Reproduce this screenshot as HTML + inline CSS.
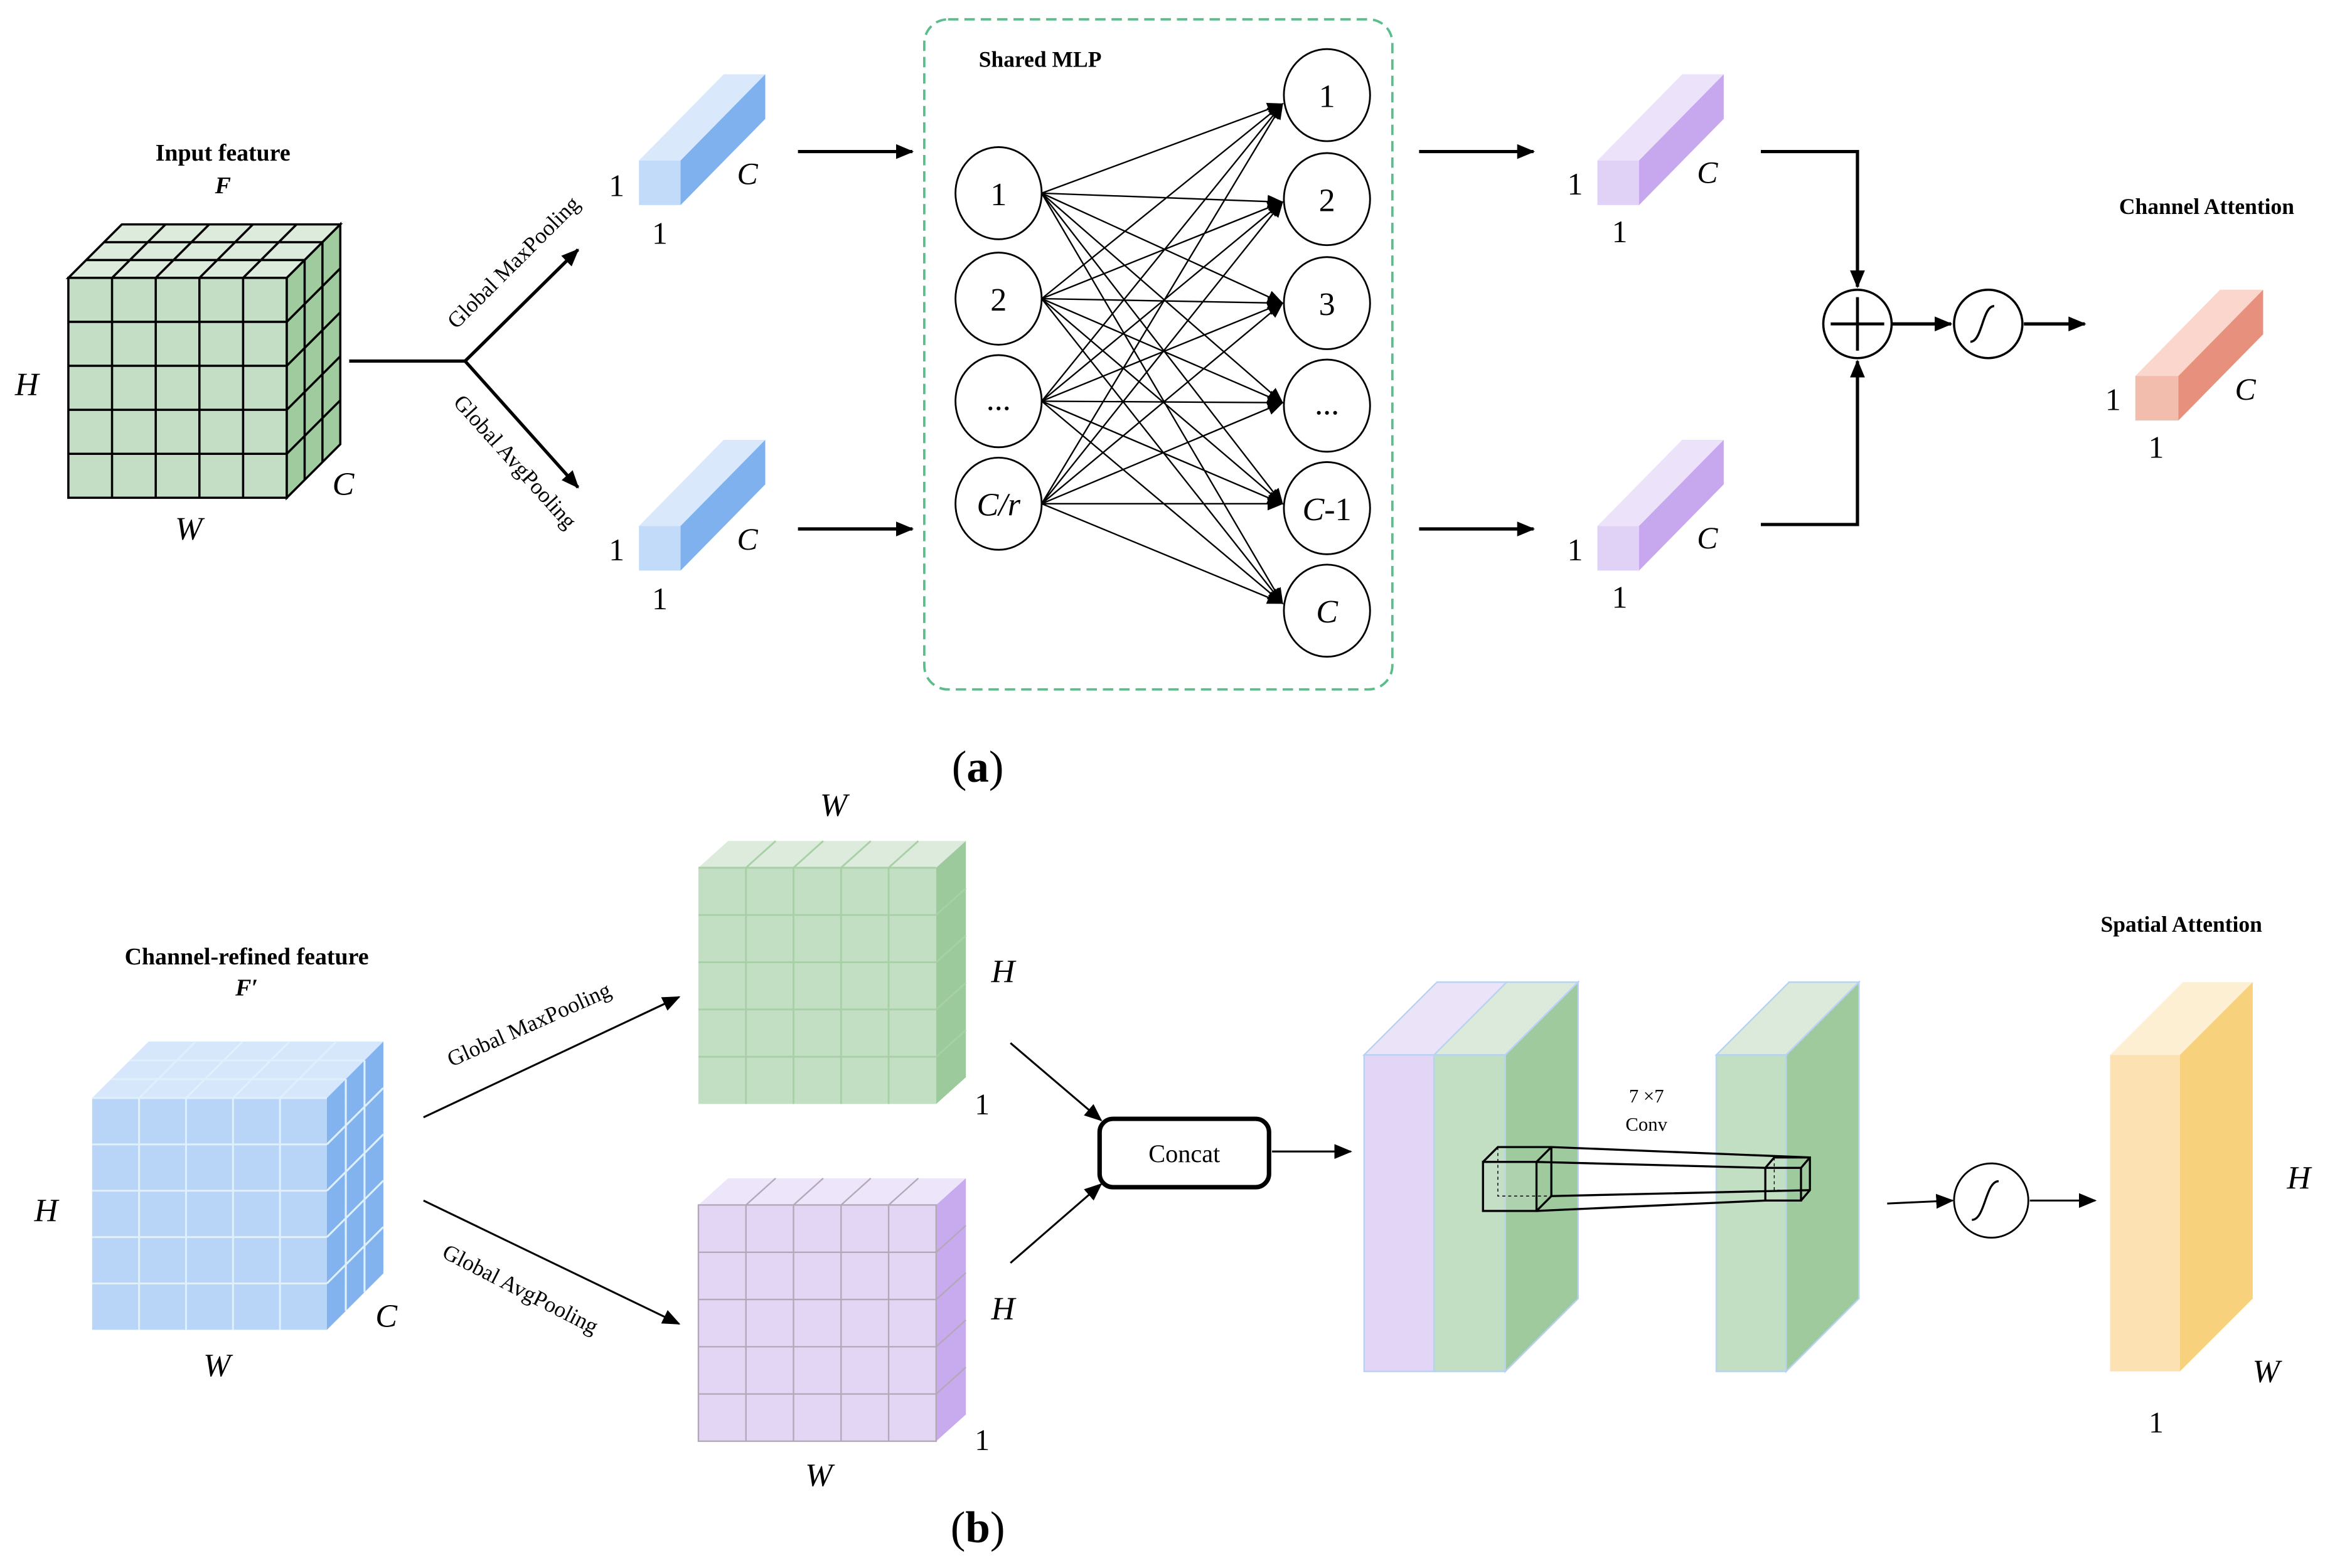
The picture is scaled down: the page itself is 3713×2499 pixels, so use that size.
<!DOCTYPE html>
<html><head><meta charset="utf-8"><style>html,body{margin:0;padding:0;background:#fff}svg{display:block}svg text{font-family:"Liberation Serif",serif}</style></head>
<body>
<svg width="3713" height="2499" viewBox="0 0 1568 1055.3" xmlns="http://www.w3.org/2000/svg" style="font-family:'Liberation Serif',serif">
<defs>
<marker id="ah" markerWidth="12" markerHeight="10" refX="11" refY="5" orient="auto" markerUnits="userSpaceOnUse"><path d="M0,0 L12,5 L0,10 z" fill="#000"/></marker>
<marker id="as" markerWidth="11" markerHeight="9" refX="10" refY="4.5" orient="auto" markerUnits="userSpaceOnUse"><path d="M0,0 L11,4.5 L0,9 z" fill="#000"/></marker>
</defs>
<rect width="1568" height="1056" fill="#fff"/>

<!-- (a) input cube -->
<polygon points="46,187 193,187 229,151 82,151" fill="#dcebdc" stroke="#000" stroke-width="1.5"/>
<rect x="46" y="187" width="147" height="148" fill="#c3dec4" stroke="#000" stroke-width="1.5"/>
<polygon points="193,187 229,151 229,299 193,335" fill="#9fcb9e" stroke="#000" stroke-width="1.5"/>
<path d="M75.4,187V335M104.8,187V335M134.2,187V335M163.6,187V335M46,216.6H193M46,246.2H193M46,275.8H193M46,305.4H193M58,175H205M70,163H217M75.4,187L111.4,151M104.8,187L140.8,151M134.2,187L170.2,151M163.6,187L199.6,151M205,175V323M217,163V311M193,216.6L229,180.6M193,246.2L229,210.2M193,275.8L229,239.8M193,305.4L229,269.4" stroke="#000" stroke-width="1.5" fill="none"/>
<text x="150" y="108" font-size="16" font-weight="bold" text-anchor="middle">Input feature</text>
<text x="150" y="130" font-size="16" font-weight="bold" font-style="italic" text-anchor="middle">F</text>
<text x="18" y="266" font-size="22" font-style="italic" text-anchor="middle">H</text>
<text x="127" y="363" font-size="22" font-style="italic" text-anchor="middle">W</text>
<text x="231" y="333" font-size="22" font-style="italic" text-anchor="middle">C</text>

<path d="M235,243H313" stroke="#000" stroke-width="2.2"/>
<path d="M313,243L389,168" stroke="#000" stroke-width="2.2" marker-end="url(#ah)"/>
<path d="M313,243L389,328" stroke="#000" stroke-width="2.2" marker-end="url(#ah)"/>
<text transform="translate(349,180) rotate(-45)" font-size="15" text-anchor="middle">Global MaxPooling</text>
<text transform="translate(343,314) rotate(48)" font-size="15" text-anchor="middle">Global AvgPooling</text>

<!-- blue bars -->
<g>
<polygon points="430,108 458,108 515,50 487,50" fill="#dae8fb"/>
<rect x="430" y="108" width="28" height="30" fill="#c2dbf8"/>
<polygon points="458,108 515,50 515,80 458,138" fill="#7fb1ef"/>
</g>
<g transform="translate(0,246)">
<polygon points="430,108 458,108 515,50 487,50" fill="#dae8fb"/>
<rect x="430" y="108" width="28" height="30" fill="#c2dbf8"/>
<polygon points="458,108 515,50 515,80 458,138" fill="#7fb1ef"/>
</g>
<g font-size="21" text-anchor="middle">
<text x="415" y="132">1</text><text x="444" y="164">1</text><text x="503" y="124" font-style="italic">C</text>
<text x="415" y="377">1</text><text x="444" y="410">1</text><text x="503" y="370" font-style="italic">C</text>
</g>
<path d="M537,102H614" stroke="#000" stroke-width="2.2" marker-end="url(#ah)"/>
<path d="M537,356H614" stroke="#000" stroke-width="2.2" marker-end="url(#ah)"/>

<!-- Shared MLP -->
<rect x="622" y="13" width="315" height="451" rx="16" fill="none" stroke="#5cbd8c" stroke-width="1.6" stroke-dasharray="7,4"/>
<text x="700" y="45" font-size="15" font-weight="bold" text-anchor="middle">Shared MLP</text>
<g stroke="#000" stroke-width="1" marker-end="url(#as)">
<path d="M701,130L863,70"/><path d="M701,201L863,70"/><path d="M701,270L863,70"/><path d="M701,339L863,70"/>
<path d="M701,130L863,136"/><path d="M701,201L863,136"/><path d="M701,270L863,136"/><path d="M701,339L863,136"/>
<path d="M701,130L863,204"/><path d="M701,201L863,204"/><path d="M701,270L863,204"/><path d="M701,339L863,204"/>
<path d="M701,130L863,271"/><path d="M701,201L863,271"/><path d="M701,270L863,271"/><path d="M701,339L863,271"/>
<path d="M701,130L863,339"/><path d="M701,201L863,339"/><path d="M701,270L863,339"/><path d="M701,339L863,339"/>
<path d="M701,130L863,406"/><path d="M701,201L863,406"/><path d="M701,270L863,406"/><path d="M701,339L863,406"/>
</g>
<g fill="#fff" stroke="#000" stroke-width="1.2">
<ellipse cx="672" cy="130" rx="29" ry="31"/><ellipse cx="672" cy="201" rx="29" ry="31"/><ellipse cx="672" cy="270" rx="29" ry="31"/><ellipse cx="672" cy="339" rx="29" ry="31"/>
<ellipse cx="893" cy="64" rx="29" ry="31"/><ellipse cx="893" cy="134" rx="29" ry="31"/><ellipse cx="893" cy="204" rx="29" ry="31"/><ellipse cx="893" cy="273" rx="29" ry="31"/><ellipse cx="893" cy="342" rx="29" ry="31"/><ellipse cx="893" cy="411" rx="29" ry="31"/>
</g>
<g font-size="22" text-anchor="middle">
<text x="672" y="138">1</text><text x="672" y="209">2</text><text x="672" y="276">...</text><text x="672" y="347" font-style="italic">C/r</text>
<text x="893" y="72">1</text><text x="893" y="142">2</text><text x="893" y="212">3</text><text x="893" y="279">...</text><text x="893" y="350"><tspan font-style="italic">C</tspan>-1</text><text x="893" y="419" font-style="italic">C</text>
</g>

<path d="M955,102H1032" stroke="#000" stroke-width="2.2" marker-end="url(#ah)"/>
<path d="M955,356H1032" stroke="#000" stroke-width="2.2" marker-end="url(#ah)"/>
<!-- purple bars -->
<g>
<polygon points="1075,108 1103,108 1160,50 1132,50" fill="#ece3fa"/>
<rect x="1075" y="108" width="28" height="30" fill="#e0d2f6"/>
<polygon points="1103,108 1160,50 1160,80 1103,138" fill="#c7a7ee"/>
</g>
<g transform="translate(0,246)">
<polygon points="1075,108 1103,108 1160,50 1132,50" fill="#ece3fa"/>
<rect x="1075" y="108" width="28" height="30" fill="#e0d2f6"/>
<polygon points="1103,108 1160,50 1160,80 1103,138" fill="#c7a7ee"/>
</g>
<g font-size="21" text-anchor="middle">
<text x="1060" y="131">1</text><text x="1090" y="163">1</text><text x="1149" y="123" font-style="italic">C</text>
<text x="1060" y="377">1</text><text x="1090" y="409">1</text><text x="1149" y="369" font-style="italic">C</text>
</g>
<path d="M1185,102H1250V193" stroke="#000" stroke-width="2.2" fill="none" marker-end="url(#ah)"/>
<path d="M1185,353H1250V243" stroke="#000" stroke-width="2.2" fill="none" marker-end="url(#ah)"/>
<circle cx="1250" cy="218" r="23" fill="#fff" stroke="#000" stroke-width="1.5"/>
<path d="M1232,218H1268M1250,200V236" stroke="#000" stroke-width="2"/>
<path d="M1273,218H1313" stroke="#000" stroke-width="2.2" marker-end="url(#ah)"/>
<circle cx="1338" cy="218" r="23" fill="#fff" stroke="#000" stroke-width="1.5"/>
<path d="M1326,230C1334,230 1334,206 1342,206" stroke="#000" stroke-width="1.5" fill="none"/>
<path d="M1362,218H1403" stroke="#000" stroke-width="2.2" marker-end="url(#ah)"/>
<text x="1485" y="144" font-size="15" font-weight="bold" text-anchor="middle">Channel Attention</text>
<polygon points="1437,253 1466,253 1523,195 1494,195" fill="#fad6cc"/>
<rect x="1437" y="253" width="29" height="30" fill="#f3bdae"/>
<polygon points="1466,253 1523,195 1523,225 1466,283" fill="#e8907e"/>
<g font-size="21" text-anchor="middle"><text x="1422" y="276">1</text><text x="1451" y="308">1</text><text x="1511" y="269" font-style="italic">C</text></g>
<text x="658" y="526" font-size="30" text-anchor="middle">(<tspan font-weight="bold">a</tspan>)</text>

<!-- (b) -->
<text x="166" y="649" font-size="16" font-weight="bold" text-anchor="middle">Channel-refined feature</text>
<text x="166" y="670" font-size="16" font-weight="bold" font-style="italic" text-anchor="middle">F′</text>
<polygon points="62,739 220,739 258,701 100,701" fill="#d6e7fb"/>
<rect x="62" y="739" width="158" height="156" fill="#b8d5f7"/>
<polygon points="220,739 258,701 258,857 220,895" fill="#82b3ef"/>
<path d="M93.6,739V895M125.2,739V895M156.8,739V895M188.4,739V895M62,770.2H220M62,801.4H220M62,832.6H220M62,863.8H220M74.7,726.3H232.7M87.3,713.7H245.3M93.6,739L131.6,701M125.2,739L163.2,701M156.8,739L194.8,701M188.4,739L226.4,701M232.7,726.3V882.3M245.3,713.7V869.7M220,770.2L258,732.2M220,801.4L258,763.4M220,832.6L258,794.6M220,863.8L258,825.8M62,739H220" stroke="#dff0fd" stroke-width="1.3" fill="none"/>
<text x="31" y="822" font-size="22" font-style="italic" text-anchor="middle">H</text>
<text x="146" y="926" font-size="22" font-style="italic" text-anchor="middle">W</text>
<text x="260" y="893" font-size="22" font-style="italic" text-anchor="middle">C</text>

<path d="M285,752L457,671" stroke="#000" stroke-width="1.3" marker-end="url(#ah)"/>
<path d="M285,808L457,891" stroke="#000" stroke-width="1.3" marker-end="url(#ah)"/>
<text transform="translate(358,694) rotate(-24)" font-size="15" text-anchor="middle">Global MaxPooling</text>
<text transform="translate(348,872) rotate(27)" font-size="15" text-anchor="middle">Global AvgPooling</text>

<!-- green flat -->
<polygon points="470,584 630,584 650,566 490,566" fill="#dcebdc"/>
<rect x="470" y="584" width="160" height="159" fill="#c2dec3"/>
<polygon points="630,584 650,566 650,725 630,743" fill="#9dca9c"/>
<path d="M502,584V743M534,584V743M566,584V743M598,584V743M470,615.8H630M470,647.6H630M470,679.4H630M470,711.2H630M502,584L522,566M534,584L554,566M566,584L586,566M598,584L618,566M630,615.8L650,597.8M630,647.6L650,629.6M630,679.4L650,661.4M630,711.2L650,693.2M470,584H630" stroke="#a8d0a6" stroke-width="1.2" fill="none"/>
<!-- purple flat -->
<g transform="translate(0,227)">
<polygon points="470,584 630,584 650,566 490,566" fill="#ede5f9"/>
<rect x="470" y="584" width="160" height="159" fill="#e3d6f5"/>
<polygon points="630,584 650,566 650,725 630,743" fill="#c8aaee"/>
<path d="M502,584V743M534,584V743M566,584V743M598,584V743M470,615.8H630M470,647.6H630M470,679.4H630M470,711.2H630M502,584L522,566M534,584L554,566M566,584L586,566M598,584L618,566M630,615.8L650,597.8M630,647.6L650,629.6M630,679.4L650,661.4M630,711.2L650,693.2M470,584H630M470,584H630V743H470Z" stroke="#b3a8b8" stroke-width="1" fill="none"/>
</g>
<g font-size="22" text-anchor="middle">
<text x="561" y="549" font-style="italic">W</text><text x="675" y="661" font-style="italic">H</text><text x="661" y="750" font-size="20">1</text>
<text x="675" y="888" font-style="italic">H</text><text x="661" y="976" font-size="20">1</text><text x="551" y="1000" font-style="italic">W</text>
</g>
<path d="M680,702L741,754" stroke="#000" stroke-width="1.3" marker-end="url(#ah)"/>
<path d="M680,850L741,797" stroke="#000" stroke-width="1.3" marker-end="url(#ah)"/>
<rect x="740" y="753" width="114" height="46" rx="9" fill="#fff" stroke="#000" stroke-width="3"/>
<text x="797" y="782" font-size="17" text-anchor="middle">Concat</text>
<path d="M856,775H909" stroke="#000" stroke-width="1.3" marker-end="url(#ah)"/>

<!-- slabs -->
<polygon points="918,710 965,710 1014,661 967,661" fill="#ebe4f9" stroke="#b8d2f2" stroke-width="1"/>
<rect x="918" y="710" width="47" height="213" fill="#e2d5f6" stroke="#b8d2f2" stroke-width="1"/>
<polygon points="965,710 1013,710 1062,661 1014,661" fill="#dbeadb" stroke="#b8d2f2" stroke-width="1"/>
<rect x="965" y="710" width="48" height="213" fill="#c2dec3" stroke="#b8d2f2" stroke-width="1"/>
<polygon points="1013,710 1062,661 1062,874 1013,923" fill="#9fca9e" stroke="#b8d2f2" stroke-width="1"/>
<polygon points="1155,710 1202,710 1251,661 1204,661" fill="#dbeadb" stroke="#b8d2f2" stroke-width="1"/>
<rect x="1155" y="710" width="47" height="213" fill="#c2dec3" stroke="#b8d2f2" stroke-width="1"/>
<polygon points="1202,710 1251,661 1251,874 1202,923" fill="#9fca9e" stroke="#b8d2f2" stroke-width="1"/>
<!-- conv cubes -->
<g stroke="#000" stroke-width="1.4" fill="none">
<rect x="998" y="782" width="36" height="33" fill="rgba(200,225,200,0.35)"/>
<path d="M998,782L1008,772H1044V805L1034,815M1034,782L1044,772"/>
<path d="M1044,772L1218,779M1034,782L1188,786M1034,815L1188,808M1044,805L1218,801"/>
<rect x="1188" y="786" width="24" height="22"/>
<path d="M1188,786L1194,779H1218V801L1212,808M1212,786L1218,779"/>
</g>
<path d="M1008,772V805H1044M1194,779V801H1218" stroke="#000" stroke-width="0.6" stroke-dasharray="2,2" fill="none"/>
<text x="1108" y="742" font-size="13" text-anchor="middle">7 ×7</text>
<text x="1108" y="761" font-size="13" text-anchor="middle">Conv</text>

<path d="M1270,810L1314,808" stroke="#000" stroke-width="1.3" marker-end="url(#ah)"/>
<circle cx="1340" cy="808" r="25" fill="#fff" stroke="#000" stroke-width="1.2"/>
<path d="M1327,821C1336,821 1336,795 1345,795" stroke="#000" stroke-width="1.4" fill="none"/>
<path d="M1366,808H1410" stroke="#000" stroke-width="1.3" marker-end="url(#ah)"/>
<text x="1468" y="627" font-size="15" font-weight="bold" text-anchor="middle">Spatial Attention</text>
<polygon points="1420,710 1467,710 1516,661 1469,661" fill="#fdefd2"/>
<rect x="1420" y="710" width="47" height="213" fill="#fce2b3"/>
<polygon points="1467,710 1516,661 1516,874 1467,923" fill="#f8d17d"/>
<g font-size="22" text-anchor="middle"><text x="1547" y="800" font-style="italic">H</text><text x="1525" y="930" font-style="italic">W</text><text x="1451" y="964" font-size="20">1</text></g>
<text x="658" y="1038" font-size="30" text-anchor="middle">(<tspan font-weight="bold">b</tspan>)</text>
</svg>
</body></html>
